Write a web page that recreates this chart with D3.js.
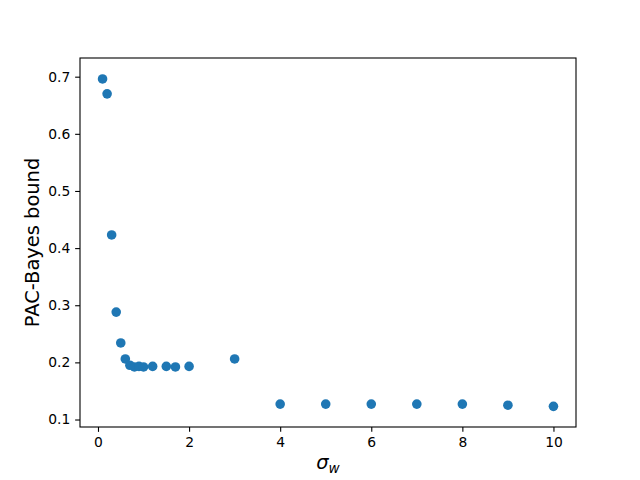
<!DOCTYPE html>
<html><head><meta charset="utf-8">
<script src="https://cdn.jsdelivr.net/npm/d3@7"></script>
<style>body{margin:0;background:#fff}svg{display:block}</style>
</head><body>
<svg id="c" width="640" height="480"></svg>
<script>
const sigmaW = [0.1,0.2,0.3,0.4,0.5,0.6,0.7,0.8,0.9,1.0,1.2,1.5,1.7,2,3,4,5,6,7,8,9,10];
const bound  = [0.696,0.670,0.423,0.288,0.234,0.206,0.195,0.192,0.193,0.192,0.193,0.193,0.192,0.193,0.206,0.127,0.127,0.127,0.127,0.127,0.125,0.123];
const xTicks = [0,2,4,6,8,10];
const yTicks = [0.1,0.2,0.3,0.4,0.5,0.6,0.7];

const svg = d3.select("#c");
const L=80,R=576,T=58,B=427;
const x = d3.scaleLinear().domain([-0.395,10.495]).range([L,R]);
const y = d3.scaleLinear().domain([0.0869,0.7327]).range([B,T]);
const font = "DejaVu Sans, sans-serif";

const xa = svg.append("g").attr("transform",`translate(0,${B})`)
  .call(d3.axisBottom(x).tickValues(xTicks).tickFormat(d3.format("d")).tickSize(4.86).tickPadding(4.86));
const ya = svg.append("g").attr("transform",`translate(${L},0)`)
  .call(d3.axisLeft(y).tickValues(yTicks).tickFormat(d3.format(".1f")).tickSize(4.86).tickPadding(4.86));
[xa,ya].forEach(a=>{
  a.select(".domain").remove();
  a.selectAll("line").attr("stroke","#000").attr("stroke-width",1.1);
  a.selectAll("text").attr("font-family",font).attr("font-size","13.89px").attr("fill","#000");
});
svg.append("rect").attr("x",L).attr("y",T).attr("width",R-L).attr("height",B-T)
  .attr("fill","none").attr("stroke","#000").attr("stroke-width",1.1);

svg.append("g").selectAll("circle").data(sigmaW.map((d,i)=>[d,bound[i]])).join("circle")
  .attr("cx",d=>x(d[0])).attr("cy",d=>y(d[1])).attr("r",4.8).attr("fill","#1f77b4");

const xl = svg.append("text").attr("x",(L+R)/2).attr("y",469).attr("text-anchor","middle")
  .attr("font-family",font).attr("font-size","19.44px");
xl.append("tspan").attr("font-style","italic").text("σ");
xl.append("tspan").attr("font-style","italic").attr("font-size","13.6px").attr("dy",4).text("w");

svg.append("text").attr("transform",`translate(39,${(T+B)/2}) rotate(-90)`).attr("text-anchor","middle")
  .attr("font-family",font).attr("font-size","19.44px").text("PAC-Bayes bound");
</script>
</body></html>
